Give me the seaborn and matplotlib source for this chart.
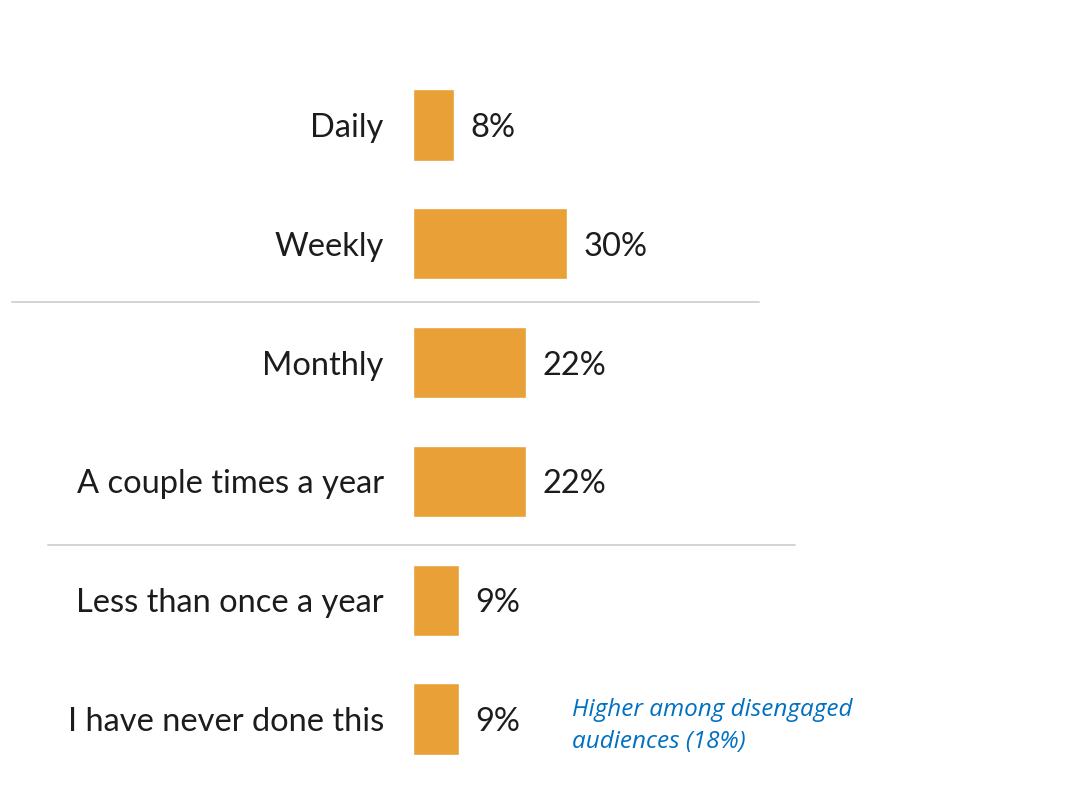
import matplotlib
matplotlib.use("Agg")
import matplotlib.pyplot as plt
import seaborn as sns
import pandas as pd

categories = ["Daily", "Weekly", "Monthly", "A couple times a year",
              "Less than once a year", "I have never done this"]
values = [8, 30, 22, 22, 9, 9]
value_labels = ["8%", "30%", "22%", "22%", "9%", "9%"]
note = "Higher among disengaged\naudiences (18%)"

sns.set_style("white")
plt.rcParams["font.family"] = ["Lato", "DejaVu Sans"]

df = pd.DataFrame({"freq": categories, "pct": values})

fig = plt.figure(figsize=(10.66, 8.11), dpi=100)
ax = fig.add_axes([413 / 1066, 0.0402, 307.8 / 1066, 0.879])
sns.barplot(data=df, y="freq", x="pct", orient="h", color="#E9A037",
            saturation=1, width=0.6, ax=ax)
ax.set_xlim(0, 60)
ax.set_ylim(5.5, -0.5)
ax.set_xlabel("")
ax.set_ylabel("")
ax.set_xticks([])
ax.tick_params(axis="y", length=0, pad=21, labelsize=23.5, labelcolor="#1c1c1c")
sns.despine(ax=ax, left=True, bottom=True)

for i, (v, lab) in enumerate(zip(values, value_labels)):
    ax.text(v + 3.2, i, lab, va="center_baseline", ha="left", fontsize=23.5,
            color="#1c1c1c")

# separator lines between groups
ax.plot([-78.2, 67.4], [1.487, 1.487], color="#d0d0d0", lw=1.3, clip_on=False)
ax.plot([-71.2, 74.4], [3.538, 3.538], color="#d0d0d0", lw=1.3, clip_on=False)

ax.text(30.9, 5.06, note, ha="left", va="center", fontsize=17.5, style="italic",
        color="#0070C0", family=["Open Sans", "DejaVu Sans"], linespacing=1.45)

fig.savefig("out.png", dpi=100)
